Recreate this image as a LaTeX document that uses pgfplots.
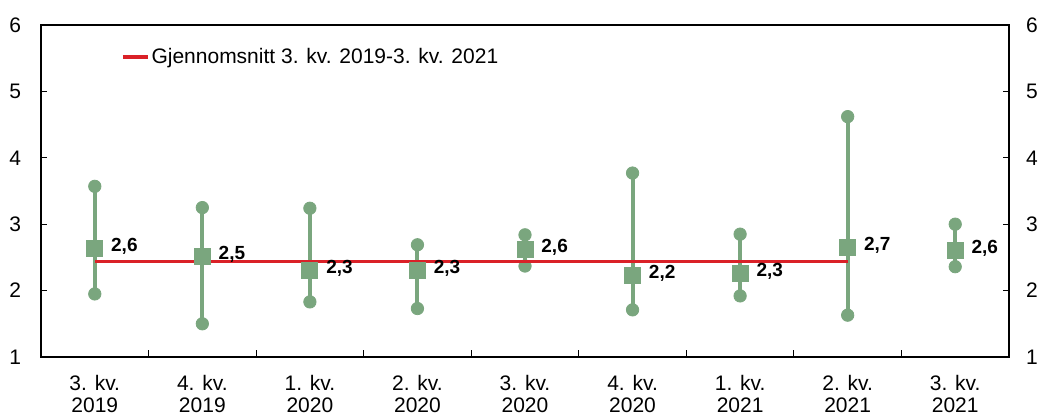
\documentclass[border=0pt]{standalone}
\usepackage{fontspec}
\setmainfont{Liberation Sans}
\usepackage{pgfplots}
\usepackage{pgfplotstable}
\pgfplotsset{compat=1.18}

\definecolor{gr}{RGB}{122,166,126}
\definecolor{rd}{RGB}{218,33,40}

% x, midpoint, low, high, label
\pgfplotstableread{
x mid  lo   hi   lab
1 2.64 1.95 3.57 2,6
2 2.52 1.50 3.25 2,5
3 2.30 1.83 3.24 2,3
4 2.31 1.73 2.69 2,3
5 2.62 2.37 2.84 2,6
6 2.23 1.71 3.77 2,2
7 2.26 1.92 2.85 2,3
8 2.65 1.63 4.62 2,7
9 2.60 2.36 3.00 2,6
}\anslag

\begin{document}
\begin{tikzpicture}
\pgfplotsset{
    base/.style={
        scale only axis,
        width=484pt, height=166pt,
        xmin=0.5, xmax=9.5,
        ymin=1, ymax=6,
        ytick={1,2,3,4,5,6},
        major tick length=3pt,
        tick style={black, line width=0.6pt},
        axis line style={black, line width=0.8pt},
        tick label style={font=\fontsize{10.5}{11}\selectfont},
        /pgf/number format/assume math mode=true,
    },
}
\begin{axis}[
    base,
    name=ax,
    xtick={1,...,9},
    xticklabels={{3. kv.\\2019},{4. kv.\\2019},{1. kv.\\2020},{2. kv.\\2020},
                 {3. kv.\\2020},{4. kv.\\2020},{1. kv.\\2021},{2. kv.\\2021},
                 {3. kv.\\2021}},
    xticklabel style={align=center, yshift=-5.5pt},
    major x tick style={draw=none},
    minor xtick={1.5,2.5,...,8.5},
    minor tick length=3.5pt,
    xtick pos=bottom,
    ytick pos=left,
    yticklabel style={xshift=-6.5pt},
    legend style={
        at={(rel axis cs:0.0826,0.9036)}, anchor=west,
        draw=none, fill=none, inner sep=0pt,
        nodes={inner sep=1pt},
        font=\fontsize{10.5}{12}\selectfont,
    },
    legend image code/.code={\draw[#1] (0pt,0pt) -- (12.5pt,0pt);},
]
\addplot[
    gr, forget plot, only marks, mark=square*, mark size=4pt,
    point meta=explicit symbolic,
    nodes near coords,
    every node near coord/.style={
        anchor=west, xshift=8pt, yshift=1pt, inner sep=0pt, black,
        font=\fontsize{9.5}{11}\selectfont\bfseries},
    error bars/.cd,
        y dir=both, y explicit,
        error mark=*,
        error mark options={gr, draw=none, fill=gr, mark size=3.1pt},
        error bar style={gr, line width=2pt},
] table[
    x=x, y=mid, meta=lab,
    y error plus expr=\thisrow{hi}-\thisrow{mid},
    y error minus expr=\thisrow{mid}-\thisrow{lo},
] {\anslag};
\addplot[rd, line width=1.6pt] coordinates {(1,2.44) (8,2.44)};
\addlegendentry{Gjennomsnitt 3. kv. 2019-3. kv. 2021}
\end{axis}
\begin{axis}[
    base,
    xtick=\empty,
    ytick pos=right,
    yticklabel pos=right,
    yticklabel style={xshift=5pt},
]
\end{axis}
\pgfresetboundingbox
\path[use as bounding box] ([shift={(-20.5pt,-29pt)}]ax.south west)
    rectangle ([shift={(15pt,12.5pt)}]ax.north east);
\end{tikzpicture}
\end{document}
